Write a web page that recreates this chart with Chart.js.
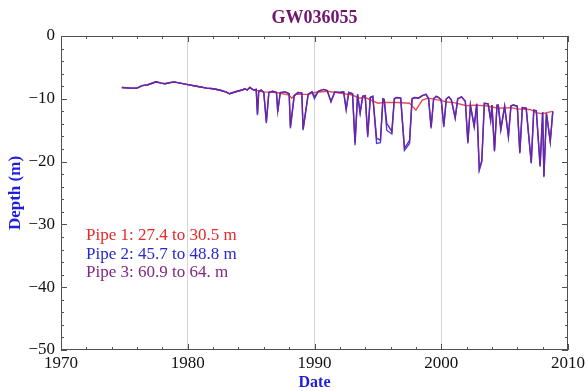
<!DOCTYPE html>
<html>
<head>
<meta charset="utf-8">
<script src="https://cdn.jsdelivr.net/npm/chart.js@4/dist/chart.umd.min.js"></script>
<style>
  html, body { margin: 0; padding: 0; background: #fff; }
  #wrap { width: 588px; height: 391px; }
</style>
</head>
<body>
<div id="wrap"><canvas id="c" width="588" height="391"></canvas></div>
<script>
// Data (decimal years, depth in m)
const chartTitle = 'GW036055';
const legendLines = ['Pipe 1: 27.4 to 30.5 m', 'Pipe 2: 45.7 to 48.8 m', 'Pipe 3: 60.9 to 64. m'];
const xTicks = [1970, 1980, 1990, 2000, 2010];
const yTicks = [0, -10, -20, -30, -40, -50];
const gridYears = [1980, 1990, 2000];

// shared early record (all three pipes)
const earlyDates = [1974.8, 1975.5, 1976.0, 1976.4, 1976.8, 1977.5, 1977.9, 1978.2, 1978.9, 1979.4,
  1979.9, 1980.7, 1981.5, 1982.0, 1982.5, 1983.0, 1983.3, 1983.9, 1984.3, 1984.5, 1984.7, 1984.9];
const earlyDepth = [-8.2, -8.3, -8.3, -7.9, -7.8, -7.3, -7.5, -7.6, -7.3, -7.5,
  -7.7, -8.0, -8.3, -8.4, -8.6, -8.9, -9.2, -8.8, -8.6, -8.4, -8.6, -8.2];

// pipe 1 after 1985
const pipe1Dates = [1985.2, 1986.0, 1987.0, 1988.0, 1988.2, 1988.5, 1989.5, 1990.0, 1991.0, 1992.0,
  1993.0, 1993.5, 1994.0, 1995.0, 1995.5, 1996.5, 1997.5, 1998.0, 1998.5, 1999.0,
  2000.0, 2000.5, 2001.0, 2002.0, 2002.5, 2003.5, 2004.0, 2004.5, 2005.5, 2006.0,
  2007.0, 2007.5, 2008.0, 2008.3, 2008.8];
const pipe1Depth = [-8.6, -8.9, -9.0, -9.4, -9.9, -9.3, -9.3, -9.0, -8.8, -9.1,
  -9.4, -9.9, -9.8, -10.7, -10.6, -10.6, -10.7, -11.8, -10.2, -9.9,
  -10.3, -10.5, -10.6, -11.1, -11.0, -11.1, -11.3, -11.5, -11.4, -11.6,
  -11.7, -12.2, -12.4, -12.2, -12.0];

// pipes 2 and 3 after 1985 (same sampling dates)
const deepDates = [1985.2, 1985.4, 1985.5, 1985.6, 1985.8, 1986.0, 1986.2, 1986.4, 1986.7, 1987.0,
  1987.1, 1987.3, 1987.7, 1988.0, 1988.1, 1988.4, 1988.7, 1989.0, 1989.1, 1989.5,
  1989.8, 1990.0, 1990.3, 1990.7, 1991.0, 1991.3, 1991.6, 1992.0, 1992.3, 1992.5,
  1992.7, 1993.0, 1993.2, 1993.4, 1993.6, 1993.8, 1994.0, 1994.2, 1994.4, 1994.6,
  1994.9, 1995.2, 1995.4, 1995.5, 1995.7, 1996.1, 1996.3, 1996.5, 1996.8, 1997.1,
  1997.5, 1997.7, 1997.9, 1998.2, 1998.5, 1998.8, 1999.0, 1999.2, 1999.4, 1999.6,
  1999.8, 2000.0, 2000.2, 2000.4, 2000.6, 2000.8, 2001.1, 2001.3, 2001.6, 2001.9,
  2002.1, 2002.3, 2002.6, 2002.8, 2003.0, 2003.2, 2003.4, 2003.7, 2003.9, 2004.0,
  2004.2, 2004.4, 2004.5, 2004.7, 2005.0, 2005.3, 2005.5, 2005.7, 2006.0, 2006.2,
  2006.4, 2006.7, 2007.1, 2007.3, 2007.5, 2007.8, 2008.0, 2008.1, 2008.3, 2008.6,
  2008.8];
const pipe2Depth = [-8.6, -8.5, -12.6, -8.8, -8.6, -9.0, -13.9, -9.0, -8.8, -9.0,
  -12.1, -9.0, -8.9, -9.2, -14.7, -9.5, -9.0, -9.1, -15.0, -9.3,
  -8.9, -10.0, -8.8, -8.5, -8.7, -10.5, -8.9, -9.0, -8.9, -11.8,
  -9.0, -9.2, -17.4, -9.3, -12.3, -9.6, -9.5, -16.1, -9.8, -9.6,
  -17.1, -17.0, -10.0, -10.1, -15.0, -15.6, -10.0, -9.8, -9.9, -18.2,
  -17.1, -10.0, -9.8, -9.9, -9.5, -9.3, -10.0, -14.7, -10.0, -9.6,
  -9.8, -10.2, -14.5, -10.0, -9.7, -10.2, -13.1, -10.0, -9.7, -10.4,
  -17.1, -11.0, -14.5, -10.8, -21.4, -20.0, -10.7, -10.8, -13.5, -11.0,
  -18.4, -11.0, -11.0, -15.0, -11.2, -16.1, -11.1, -11.0, -11.2, -18.7,
  -11.4, -11.5, -20.3, -11.8, -11.9, -20.8, -12.1, -22.5, -12.3, -16.9,
  -12.0];
const pipe3Depth = [-8.6, -8.5, -12.4, -8.8, -8.6, -9.0, -13.6, -9.0, -8.8, -9.0,
  -12.0, -9.0, -8.9, -9.2, -14.4, -9.5, -9.0, -9.1, -14.8, -9.3,
  -8.9, -9.7, -8.8, -8.5, -8.7, -10.4, -8.9, -9.0, -8.9, -11.6,
  -9.0, -9.2, -17.0, -9.3, -12.2, -9.6, -9.5, -15.8, -9.8, -9.6,
  -16.3, -16.6, -10.0, -10.1, -13.9, -15.2, -10.0, -9.8, -9.9, -17.9,
  -16.6, -10.0, -9.8, -9.9, -9.5, -9.3, -10.0, -14.5, -10.0, -9.6,
  -9.8, -10.2, -14.3, -10.0, -9.7, -10.2, -13.0, -10.0, -9.7, -10.4,
  -16.9, -11.0, -14.3, -10.8, -21.2, -19.8, -10.7, -10.8, -13.3, -11.0,
  -18.2, -11.0, -11.0, -14.8, -11.2, -15.9, -11.1, -11.0, -11.2, -18.5,
  -11.4, -11.5, -20.1, -11.8, -11.9, -20.6, -12.1, -22.3, -12.3, -16.7,
  -12.0];

const pipeColors = ['rgb(238,72,72)', 'rgb(72,66,226)', 'rgb(108,36,160)'];
const textColors = ['rgb(232,40,40)', 'rgb(40,40,210)', 'rgb(128,40,132)'];

function toPoints(dates, depths) {
  return dates.map((d, i) => ({ x: d, y: depths[i] }));
}
const early = toPoints(earlyDates, earlyDepth);

const serif = '"Liberation Serif", "Times New Roman", serif';
const minus = v => (v < 0 ? '\u2212' + Math.abs(v) : String(v));

const framePlugin = {
  id: 'frame',
  afterDraw(chart) {
    const { ctx, chartArea: a, scales } = chart;
    const xs = scales.x, ys = scales.y;
    ctx.save();
    ctx.strokeStyle = '#505050';
    ctx.lineWidth = 1;
    ctx.strokeRect(a.left + 0.5, a.top + 0.5, a.right - a.left - 1, a.bottom - a.top - 1);
    ctx.beginPath();
    for (let yr = 1970; yr <= 2010; yr += 2) {
      const px = Math.round(xs.getPixelForValue(yr)) + 0.5;
      const len = yr % 10 === 0 ? 6 : 3;
      ctx.moveTo(px, a.bottom); ctx.lineTo(px, a.bottom - len);
      ctx.moveTo(px, a.top); ctx.lineTo(px, a.top + len);
    }
    for (let d = 0; d >= -50; d -= 2) {
      const py = Math.round(ys.getPixelForValue(d)) + 0.5;
      const len = d % 10 === 0 ? 6 : 3;
      ctx.moveTo(a.left, py); ctx.lineTo(a.left + len, py);
      ctx.moveTo(a.right, py); ctx.lineTo(a.right - len, py);
    }
    ctx.stroke();

    // title
    ctx.fillStyle = 'rgb(112,20,112)';
    ctx.font = 'bold 18px ' + serif;
    ctx.textAlign = 'center';
    ctx.textBaseline = 'middle';
    ctx.fillText(chartTitle, (a.left + a.right) / 2, 18);

    // pipe labels
    ctx.font = '17px ' + serif;
    ctx.textAlign = 'left';
    legendLines.forEach((t, i) => {
      ctx.fillStyle = textColors[i];
      ctx.fillText(t, 86, 236 + i * 18.5);
    });
    ctx.restore();
  }
};

const ctx = document.getElementById('c').getContext('2d');
new Chart(ctx, {
  type: 'line',
  data: {
    datasets: [
      { label: 'Pipe 3', data: early.concat(toPoints(deepDates, pipe3Depth)), borderColor: pipeColors[2], order: 0 },
      { label: 'Pipe 2', data: early.concat(toPoints(deepDates, pipe2Depth)), borderColor: pipeColors[1], order: 1 },
      { label: 'Pipe 1', data: early.concat(toPoints(pipe1Dates, pipe1Depth)), borderColor: pipeColors[0], order: 2 }
    ]
  },
  options: {
    responsive: false,
    animation: false,
    parsing: false,
    layout: { padding: { left: 0, top: 36, right: 20, bottom: 0 } },
    elements: {
      point: { radius: 0 },
      line: { borderWidth: 1.4, tension: 0, fill: false }
    },
    plugins: { legend: { display: false }, tooltip: { enabled: false }, title: { display: false } },
    scales: {
      x: {
        type: 'linear',
        min: 1970, max: 2010,
        afterFit(s) { s.height = 41; },
        afterBuildTicks(s) { s.ticks = xTicks.map(v => ({ value: v })); },
        grid: {
          drawTicks: false,
          color: c => (gridYears.includes(c.tick && c.tick.value) ? '#d4d4d4' : 'rgba(0,0,0,0)'),
          lineWidth: 1
        },
        border: { display: false },
        ticks: {
          padding: 3, maxRotation: 0, autoSkip: false,
          color: '#111', font: { family: serif, size: 17 },
          callback: v => String(v)
        },
        title: {
          display: true, text: 'Date', color: 'rgb(30,30,220)',
          font: { family: serif, size: 16, weight: 'bold', lineHeight: 1 },
          padding: { top: 0, bottom: 0 }
        }
      },
      y: {
        min: -50, max: 0,
        afterFit(s) { s.width = 61; },
        afterBuildTicks(s) { s.ticks = yTicks.map(v => ({ value: v })); },
        grid: { display: false, drawTicks: false },
        border: { display: false },
        ticks: {
          padding: 6, color: '#111', font: { family: serif, size: 17 },
          callback: v => minus(v)
        },
        title: {
          display: true, text: 'Depth (m)', color: 'rgb(30,30,220)',
          font: { family: serif, size: 17, weight: 'bold' },
          padding: { top: 5, bottom: 0 }
        }
      }
    }
  },
  plugins: [framePlugin]
});
</script>
</body>
</html>
